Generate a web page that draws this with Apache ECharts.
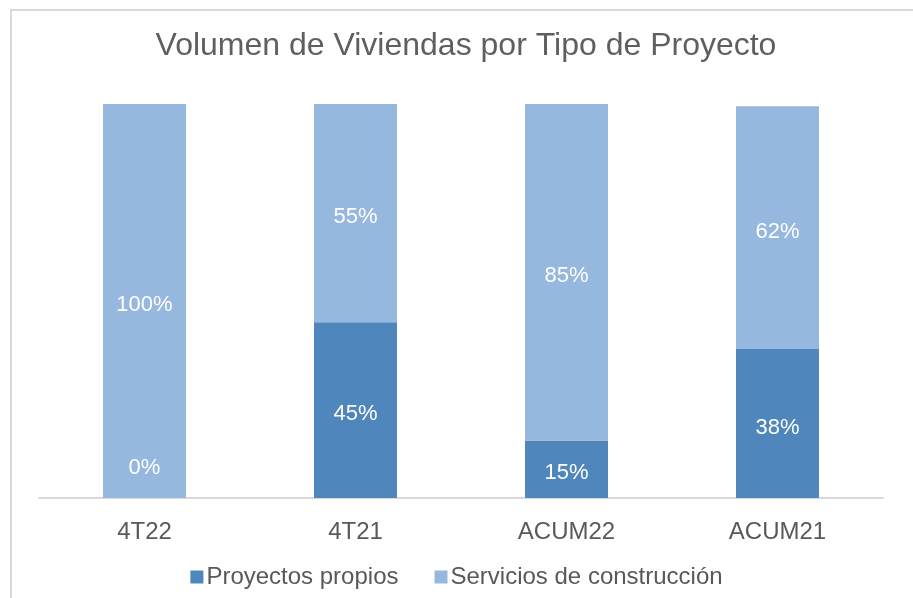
<!DOCTYPE html>
<html>
<head>
<meta charset="utf-8">
<script src="https://cdn.jsdelivr.net/npm/echarts@6/dist/echarts.min.js"></script>
<style>
  html, body { margin: 0; padding: 0; background: #fff; }
  #chart { width: 913px; height: 598px; }
</style>
</head>
<body>
<div id="chart"></div>
<script>
// datos (porcentaje del volumen de viviendas)
const categories = ['4T22', '4T21', 'ACUM22', 'ACUM21'];
const propios = [0, 44.6, 14.6, 37.8];
const servicios = [100, 55.4, 85.4, 61.6];
const seriesNames = ['Proyectos propios', 'Servicios de construcción'];

const FONT = '"Liberation Sans", Arial, sans-serif';
const pct = p => Math.round(p.value) + '%';

const chartDom = document.getElementById('chart');
const myChart = echarts.init(chartDom);

const option = {
  animation: false,
  color: ['#4F87BC', '#96B8DE'],
  title: {
    text: 'Volumen de Viviendas por Tipo de Proyecto',
    left: 461,
    textAlign: 'center',
    top: 25,
    textStyle: { fontFamily: FONT, fontSize: 32, fontWeight: 'normal', color: '#5f5f5f' }
  },
  graphic: [{
    type: 'rect',
    shape: { x: 11, y: 10, width: 1000, height: 1000 },
    style: { fill: 'none', stroke: '#d9d9d9', lineWidth: 2 },
    silent: true
  }],
  legend: {
    data: seriesNames,
    bottom: 4,
    left: 'center',
    itemWidth: 13,
    itemHeight: 13,
    itemGap: 36,
    icon: 'rect',
    textStyle: { fontFamily: FONT, fontSize: 24, color: '#595959', padding: [0, 0, 0, -2] }
  },
  grid: { left: 39, right: 30, top: 104, bottom: 100 },
  xAxis: {
    type: 'category',
    data: categories,
    axisLine: { lineStyle: { color: '#d9d9d9', width: 2 } },
    axisTick: { show: false },
    axisLabel: { fontFamily: FONT, fontSize: 24, color: '#595959', margin: 22 }
  },
  yAxis: {
    type: 'value',
    min: 0,
    max: 100,
    show: false
  },
  series: [
    {
      name: seriesNames[0],
      type: 'bar',
      stack: 'total',
      barWidth: 83,
      label: { show: true, position: 'inside', offset: [0, 4], color: '#fff', fontFamily: FONT, fontSize: 22, formatter: pct },
      data: propios.map(v => (v === 0 ? { value: v, label: { offset: [0, -30] } } : v))
    },
    {
      name: seriesNames[1],
      type: 'bar',
      stack: 'total',
      barWidth: 83,
      label: { show: true, position: 'inside', offset: [0, 4], color: '#fff', fontFamily: FONT, fontSize: 22, formatter: pct },
      data: servicios
    }
  ]
};

myChart.setOption(option);
</script>
</body>
</html>
